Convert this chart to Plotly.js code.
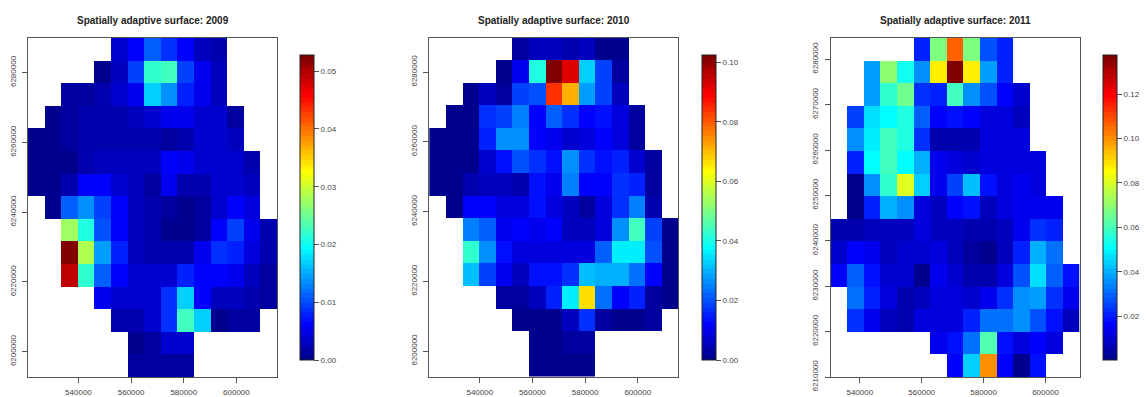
<!DOCTYPE html>
<html><head><meta charset="utf-8">
<script src="https://cdn.plot.ly/plotly-3.0.1.min.js"></script>
<style>html,body{margin:0;padding:0;background:#fff}#c{width:1146px;height:397px}</style>
</head><body><div id="c"></div>
<script>
const W=1146,H=397;
const eastings12=[523983,530290,536597,542904,549211,555518,561825,568132,574439,580746,587053,593360,599667,605974,612281];
const northings12=[6286710,6280230,6273750,6267270,6260790,6254310,6247830,6241350,6234870,6228390,6221910,6215430,6208950,6202470,6195990];
const eastings3=[533212,538576,543940,549304,554668,560032,565396,570760,576124,581488,586852,592216,597580,602944,608308];
const northings3=[6282210,6277230,6272250,6267270,6262290,6257310,6252330,6247350,6242370,6237390,6232410,6227430,6222450,6217470,6212490];
const _=null;
const surface2009=[
[_,_,_,_,_,.0035,.006,.011,.0085,.0065,.0025,.002,_,_,_],
[_,_,_,_,.0005,.0025,.0095,.0218,.0226,.0095,.005,.0025,_,_,_],
[_,_,.0015,.0015,.002,.004,.005,.0168,.0137,.008,.005,.003,_,_,_],
[_,.0005,.001,.002,.002,.002,.0025,.0035,.005,.005,.0035,.0035,.001,_,_],
[.0003,.0003,.001,.002,.002,.002,.0018,.002,.001,.002,.0035,.0035,.0025,_,_],
[.0003,.0003,.0003,.002,.003,.003,.003,.003,.0065,.0055,.0035,.0035,.004,.002,_],
[.0003,.0003,.002,.0065,.0065,.004,.003,.0015,.0055,.002,.002,.0035,.0035,.0025,_],
[_,.0005,.011,.0133,.0095,.006,.003,.002,.001,.0005,.0015,.004,.0065,.0045,_],
[_,_,.028,.0209,.0105,.0065,.003,.002,.0008,.0005,.0015,.0065,.0095,.005,.002],
[_,_,.0528,.0285,.0143,.008,.003,.002,.002,.002,.005,.0085,.0075,.0045,.002],
[_,_,.0488,.0218,.0112,.006,.004,.0035,.0035,.008,.0065,.0065,.0055,.0025,.001],
[_,_,_,_,.0055,.0035,.004,.004,.0085,.0172,.006,.0025,.003,.0018,.001],
[_,_,_,_,_,.0018,.0022,.0035,.009,.0226,.0165,.0005,.0015,.001,_],
[_,_,_,_,_,_,.0003,.001,.004,.004,_,_,_,_,_],
[_,_,_,_,_,_,.001,.0012,.0012,.001,_,_,_,_,_]];
const surface2010=[
[_,_,_,_,_,.003,.005,.005,.004,.005,.001,.001,_,_,_],
[_,_,_,_,.001,.01,.041,.1024,.092,.0334,.018,.002,_,_,_],
[_,_,.001,.006,.003,.019,.02,.0845,.0715,.028,.018,.005,_,_,_],
[_,.001,.001,.016,.018,.025,.012,.021,.017,.012,.013,.009,.002,_,_],
[.001,.001,.001,.015,.026,.026,.012,.01,.007,.009,.012,.009,.002,_,_],
[.001,.001,.001,.007,.014,.02,.017,.014,.026,.017,.014,.015,.007,.002,_],
[.001,.001,.004,.005,.005,.004,.014,.011,.024,.012,.012,.017,.015,.002,_],
[_,.001,.012,.012,.009,.008,.013,.008,.006,.003,.008,.017,.025,.004,_],
[_,_,.024,.021,.01,.012,.011,.012,.006,.005,.009,.027,.0435,.019,.001],
[_,_,.0423,.027,.014,.008,.008,.009,.009,.009,.021,.0365,.0365,.02,.001],
[_,_,.0309,.019,.011,.005,.013,.013,.017,.0309,.029,.03,.023,.012,.001],
[_,_,_,_,.002,.002,.005,.015,.0359,.0665,.023,.012,.015,.002,.001],
[_,_,_,_,_,.001,.001,.001,.005,.016,.003,.001,.001,.002,_],
[_,_,_,_,_,_,.001,.001,.003,.003,_,_,_,_,_],
[_,_,_,_,_,_,.001,.001,.0005,.001,_,_,_,_,_]];
const surface2011=[
[_,_,_,_,_,.02,.068,.1073,.068,.026,.021,_,_,_,_],
[_,_,.038,.069,.053,.036,.0875,.1377,.087,.038,.02,_,_,_,_],
[_,_,.038,.057,.0656,.022,.021,.06,.036,.026,.017,.01,_,_,_],
[_,.025,.0461,.05,.055,.03,.016,.018,.017,.012,.011,.008,_,_,_],
[_,.0352,.048,.06,.056,.022,.006,.006,.005,.012,.013,.013,_,_,_],
[_,.02,.05,.06,.05,.039,.015,.011,.01,.012,.012,.013,.012,_,_],
[_,.001,.0352,.058,.0805,.0434,.014,.024,.0414,.018,.011,.014,.012,_,_],
[_,.002,.021,.04,.0352,.012,.008,.017,.018,.008,.012,.014,.014,.014,_],
[.005,.005,.008,.008,.008,.012,.007,.007,.006,.005,.007,.014,.022,.02,_],
[.01,.017,.014,.008,.01,.01,.013,.008,.003,.002,.007,.02,.0395,.032,_],
[.016,.03,.018,.009,.01,.002,.014,.009,.005,.005,.012,.027,.0455,.029,.019],
[_,.031,.02,.012,.005,.007,.011,.011,.009,.015,.023,.036,.038,.022,.014],
[_,.023,.015,.008,.005,.012,.013,.013,.02,.032,.032,.036,.027,.018,.007],
[_,_,_,_,_,_,.015,.018,.032,.061,.018,.011,.017,.012,_],
[_,_,_,_,_,_,_,.017,.0445,.0997,.017,.002,.019,_,_]];
const years=['2009','2010','2011'];
const zMax=[0.0528,0.1024,0.1377];
const zMin=[0,0,0.0002];
const barTicks=[[0,.01,.02,.03,.04,.05],[0,.02,.04,.06,.08,.10],[.02,.04,.06,.08,.10,.12]];
const xTicks=[[540000,560000,580000,600000],[540000,560000,580000,600000],[540000,560000,580000,600000]];
const yTicks=[[6200000,6220000,6240000,6260000,6280000],[6200000,6220000,6240000,6260000,6280000],[6210000,6220000,6230000,6240000,6250000,6260000,6270000,6280000]];
const xRanges=[[520830,615430],[520700,615300],[530530,610985]];
const yRanges=[[6192750,6289950],[6192600,6289800],[6210000,6284700]];
const boxes=[[28,277],[429,678],[830.5,1079.5]];
const barsX=[300,702,1103];

// tim.colors(64), as R's fields package draws it: 64 flat steps
const anchors=[[0,[0,0,143]],[7/63,[0,0,255]],[23/63,[0,255,255]],[39/63,[255,255,0]],[55/63,[255,0,0]],[1,[128,0,0]]];
function tim(t){for(let i=1;i<anchors.length;i++){if(t<=anchors[i][0]+1e-9){const a=anchors[i-1],b=anchors[i],f=(t-a[0])/(b[0]-a[0]);
 return 'rgb('+a[1].map((v,k)=>Math.round(v+(b[1][k]-v)*f)).join(',')+')';}}return 'rgb(128,0,0)';}
const scale=[];for(let i=0;i<64;i++){const c=tim(i/63);scale.push([i/64,c]);scale.push([(i+1)/64,c]);}

const TOP=38,BOT=377,inkAxis='#555',inkText='#444';
const font={family:'"Liberation Sans",Arial,sans-serif',size:8,color:inkText};
const dataX=[eastings12,eastings12,eastings3],dataY=[northings12,northings12,northings3],dataZ=[surface2009,surface2010,surface2011];
const traces=[],layout={width:W,height:H,margin:{l:0,r:0,t:0,b:0},paper_bgcolor:'#fff',plot_bgcolor:'#fff',font:font,showlegend:false,annotations:[]};
years.forEach((yr,i)=>{
 const s=i?String(i+1):'';
 traces.push({type:'heatmap',x:dataX[i],y:dataY[i],z:dataZ[i],xaxis:'x'+s,yaxis:'y'+s,zmin:zMin[i],zmax:zMax[i],colorscale:scale,hoverongaps:false,zsmooth:false,
  colorbar:{thicknessmode:'pixels',thickness:14,lenmode:'pixels',len:305,xref:'paper',yref:'paper',xanchor:'left',yanchor:'top',x:barsX[i]/W,y:1-55/H,xpad:0,ypad:0,
   tickvals:barTicks[i],ticktext:barTicks[i].map(v=>v.toFixed(2)),ticks:'outside',ticklen:5,tickwidth:1,tickcolor:inkAxis,tickfont:font,outlinewidth:1,outlinecolor:'#222',showticklabels:true,borderwidth:0}});
 layout['xaxis'+s]={domain:[boxes[i][0]/W,boxes[i][1]/W],range:xRanges[i],anchor:'y'+s,tickvals:xTicks[i],ticktext:xTicks[i].map(String),ticks:'outside',ticklen:5,tickwidth:1,tickcolor:inkAxis,showgrid:false,zeroline:false,showline:true,mirror:true,linecolor:inkAxis,linewidth:1,tickfont:font,tickangle:0,ticklabelstandoff:2};
 layout['yaxis'+s]={domain:[1-BOT/H,1-TOP/H],range:yRanges[i],anchor:'x'+s,tickvals:yTicks[i],ticktext:yTicks[i].map(String),ticks:'outside',ticklen:5,tickwidth:1,tickcolor:inkAxis,showgrid:false,zeroline:false,showline:true,mirror:true,linecolor:inkAxis,linewidth:1,tickfont:font,tickangle:-90,ticklabelstandoff:3};
 layout.annotations.push({xref:'paper',yref:'paper',x:(boxes[i][0]+boxes[i][1])/2/W,y:1-20/H,xanchor:'center',yanchor:'middle',showarrow:false,text:'<b>Spatially adaptive surface: '+yr+'</b>',font:{family:font.family,size:10,color:'#222'}});
});
Plotly.newPlot('c',traces,layout,{displayModeBar:false,staticPlot:true});
</script></body></html>
